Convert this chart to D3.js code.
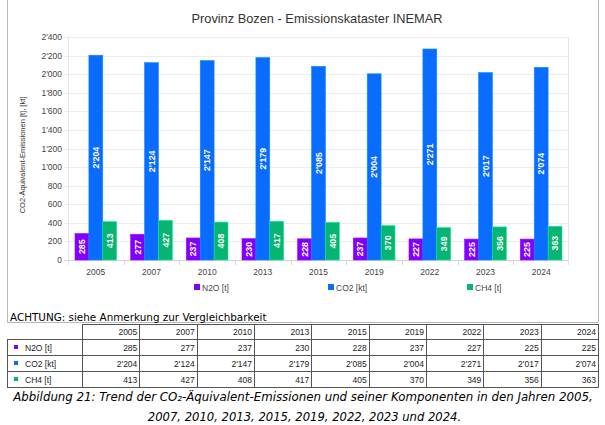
<!DOCTYPE html>
<html>
<head>
<meta charset="utf-8">
<script src="https://cdn.jsdelivr.net/npm/d3@7"></script>
<style>
  body { margin: 0; background: #fff; }
  svg { display: block; }
</style>
</head>
<body>
<svg width="605" height="425"></svg>
<script>
const years = ["2005", "2007", "2010", "2013", "2015", "2019", "2022", "2023", "2024"];
const n2o = [285, 277, 237, 230, 228, 237, 227, 225, 225];
const co2 = [2204, 2124, 2147, 2179, 2085, 2004, 2271, 2017, 2074];
const ch4 = [413, 427, 408, 417, 405, 370, 349, 356, 363];
const seriesNames = ["N2O [t]", "CO2 [kt]", "CH4 [t]"];
const seriesColors = ["#8000ff", "#0a6bff", "#06b572"];
const yTicks = [0, 200, 400, 600, 800, 1000, 1200, 1400, 1600, 1800, 2000, 2200, 2400];

const series = [n2o, co2, ch4];

var locale = d3.formatLocale({ decimal: ".", thousands: "'", grouping: [3], currency: ["", ""] });
var fmt = locale.format(",");

var svg = d3.select("svg");
var chartFont = "'Liberation Sans', Arial, sans-serif";
var docFont = "'DejaVu Sans', sans-serif";

// chart panel frame
svg.append("path")
    .attr("d", "M7.5,0 V322.5 H598.5 V0")
    .attr("fill", "none")
    .attr("stroke", "#b8b8b8");

svg.append("text")
    .attr("x", 317).attr("y", 23)
    .attr("text-anchor", "middle")
    .style("font-family", chartFont).style("font-size", "12.8px")
    .attr("fill", "#333")
    .text("Provinz Bozen - Emissionskataster INEMAR");

var xScale = d3.scaleBand().domain(years).range([68, 569]);
var x1 = d3.scaleBand().domain(d3.range(series.length)).range([7, xScale.bandwidth() - 7]);
var yScale = d3.scaleLinear().domain([0, 2400]).range([260, 37]);

// grid
svg.append("g").selectAll("line")
    .data(yTicks)
    .enter().append("line")
    .attr("x1", 64).attr("x2", 569)
    .attr("y1", function (d) { return Math.round(yScale(d)) + 0.5; })
    .attr("y2", function (d) { return Math.round(yScale(d)) + 0.5; })
    .attr("stroke", function (d) { return d === 0 ? "#d0d0d0" : "#ececec"; });

svg.append("line")
    .attr("x1", 68.5).attr("x2", 68.5).attr("y1", 37).attr("y2", 265)
    .attr("stroke", "#e4e4e4");
svg.append("line")
    .attr("x1", 568.5).attr("x2", 568.5).attr("y1", 37).attr("y2", 265)
    .attr("stroke", "#e4e4e4");

// category separators below the axis
svg.append("g").selectAll("line")
    .data(years.slice(1))
    .enter().append("line")
    .attr("x1", function (d) { return Math.round(xScale(d)) + 0.5; })
    .attr("x2", function (d) { return Math.round(xScale(d)) + 0.5; })
    .attr("y1", 260).attr("y2", 265)
    .attr("stroke", "#d8d8d8");

// y tick labels
svg.append("g").selectAll("text")
    .data(yTicks)
    .enter().append("text")
    .attr("x", 62)
    .attr("y", function (d) { return yScale(d) + 3; })
    .attr("text-anchor", "end")
    .style("font-family", chartFont).style("font-size", "8.5px")
    .attr("fill", "#444")
    .text(function (d) { return fmt(d); });

svg.append("text")
    .attr("transform", "translate(25,155) rotate(-90)")
    .attr("text-anchor", "middle")
    .style("font-family", chartFont).style("font-size", "7.5px")
    .attr("fill", "#333")
    .text("CO2-Äquivalent-Emissionen [t], [kt]");

// x labels
svg.append("g").selectAll("text")
    .data(years)
    .enter().append("text")
    .attr("x", function (d) { return xScale(d) + xScale.bandwidth() / 2; })
    .attr("y", 275)
    .attr("text-anchor", "middle")
    .style("font-family", chartFont).style("font-size", "8.5px")
    .attr("fill", "#444")
    .text(function (d) { return d; });

// bars
var groups = svg.append("g").selectAll("g")
    .data(years)
    .enter().append("g")
    .attr("transform", function (d) { return "translate(" + xScale(d) + ",0)"; });

groups.each(function (year, i) {
    var g = d3.select(this);
    series.forEach(function (vals, s) {
        var v = vals[i];
        g.append("rect")
            .attr("x", x1(s))
            .attr("y", yScale(v))
            .attr("width", x1.bandwidth())
            .attr("height", yScale(0) - yScale(v))
            .attr("fill", seriesColors[s])
            .attr("stroke", d3.color(seriesColors[s]).brighter(0.8))
            .attr("stroke-width", 0.6);
        var cx = x1(s) + x1.bandwidth() / 2;
        var cy = (yScale(v) + yScale(0)) / 2;
        g.append("text")
            .attr("transform", "translate(" + (cx + 3.2) + "," + cy + ") rotate(-90)")
            .attr("text-anchor", "middle")
            .style("font-family", chartFont).style("font-size", "8.8px")
            .style("font-weight", "bold")
            .attr("fill", "#fff")
            .text(fmt(v));
    });
});

// legend
var legendX = [194, 328, 467];
seriesNames.forEach(function (name, s) {
    svg.append("rect")
        .attr("x", legendX[s]).attr("y", 284)
        .attr("width", 6).attr("height", 6)
        .attr("fill", seriesColors[s]);
    svg.append("text")
        .attr("x", legendX[s] + 8).attr("y", 290.5)
        .style("font-family", chartFont).style("font-size", "8.5px")
        .attr("fill", "#444")
        .text(name);
});

svg.append("text")
    .attr("x", 10).attr("y", 321)
    .style("font-family", docFont).style("font-size", "10.4px")
    .attr("fill", "#000")
    .text("ACHTUNG: siehe Anmerkung zur Vergleichbarkeit");

// data table
var colX = d3.scaleBand().domain(years).range([82, 598]);
var rowY = [339, 355, 371, 387];
var tbl = svg.append("g");
var lineColor = "#555";

tbl.append("line").attr("x1", 82).attr("x2", 598.5).attr("y1", 324.5).attr("y2", 324.5).attr("stroke", lineColor);
rowY.forEach(function (y) {
    tbl.append("line").attr("x1", 7).attr("x2", 598.5).attr("y1", y + 0.5).attr("y2", y + 0.5).attr("stroke", lineColor);
});
tbl.append("line").attr("x1", 7.5).attr("x2", 7.5).attr("y1", 339).attr("y2", 387.5).attr("stroke", lineColor);
years.forEach(function (yr) {
    tbl.append("line")
        .attr("x1", Math.round(colX(yr)) + 0.5).attr("x2", Math.round(colX(yr)) + 0.5)
        .attr("y1", 324).attr("y2", 387.5).attr("stroke", lineColor);
});
tbl.append("line").attr("x1", 598.5).attr("x2", 598.5).attr("y1", 324).attr("y2", 387.5).attr("stroke", lineColor);

years.forEach(function (yr) {
    tbl.append("text")
        .attr("x", colX(yr) + colX.bandwidth() - 2).attr("y", 335)
        .attr("text-anchor", "end")
        .style("font-family", chartFont).style("font-size", "8.5px")
        .attr("fill", "#222")
        .text(yr);
});

seriesNames.forEach(function (name, s) {
    var y = rowY[s];
    tbl.append("rect")
        .attr("x", 14).attr("y", y + 6)
        .attr("width", 4).attr("height", 4)
        .attr("fill", seriesColors[s]);
    tbl.append("text")
        .attr("x", 25).attr("y", y + 11.5)
        .style("font-family", chartFont).style("font-size", "8.5px")
        .attr("fill", "#222")
        .text(name);
    years.forEach(function (yr, i) {
        tbl.append("text")
            .attr("x", colX(yr) + colX.bandwidth() - 2).attr("y", y + 11.5)
            .attr("text-anchor", "end")
            .style("font-family", chartFont).style("font-size", "8.5px")
            .attr("fill", "#222")
            .text(fmt(series[s][i]));
    });
});

// caption
svg.append("text")
    .attr("x", 303).attr("y", 401)
    .attr("text-anchor", "middle")
    .style("font-family", docFont).style("font-size", "11.8px").style("font-style", "italic")
    .attr("fill", "#000")
    .text("Abbildung 21: Trend der CO₂-Äquivalent-Emissionen und seiner Komponenten in den Jahren 2005,");
svg.append("text")
    .attr("x", 304.5).attr("y", 421)
    .attr("text-anchor", "middle")
    .style("font-family", docFont).style("font-size", "11.6px").style("font-style", "italic")
    .attr("fill", "#000")
    .text("2007, 2010, 2013, 2015, 2019, 2022, 2023 und 2024.");
</script>
</body>
</html>
